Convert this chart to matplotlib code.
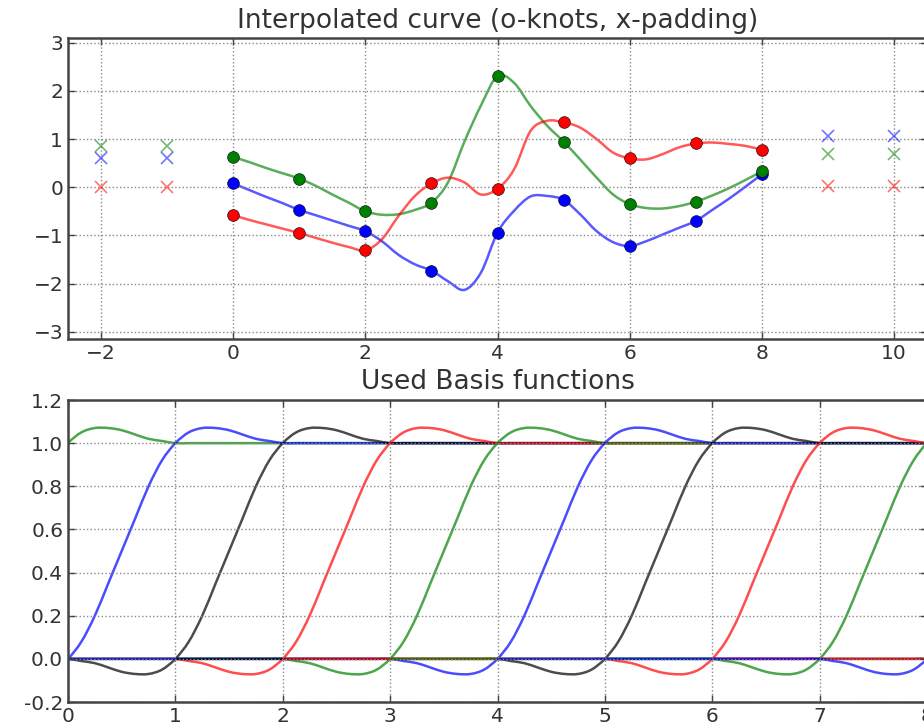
import numpy as np
import matplotlib
matplotlib.use("Agg")
import matplotlib.pyplot as plt
from matplotlib.path import Path
from matplotlib.patches import PathPatch

# curve samples, every 0.25 from 0 to 8 (knots at integers)
curve_t = np.arange(0, 8.25, 0.25)
blue_curve = [0.08, -0.06, -0.20, -0.33, -0.47, -0.58, -0.69, -0.80, -0.91, -1.12, -1.40, -1.60,
              -1.73, -1.95, -2.13, -1.77, -0.94, -0.49, -0.19, -0.18, -0.26, -0.56, -0.91, -1.14,
              -1.22, -1.12, -0.98, -0.84, -0.70, -0.47, -0.24, 0.01, 0.27]
green_curve = [0.63, 0.52, 0.40, 0.29, 0.18, 0.03, -0.15, -0.32, -0.50, -0.57, -0.56, -0.47,
               -0.32, 0.10, 0.95, 1.70, 2.31, 2.17, 1.69, 1.28, 0.95, 0.58, 0.20, -0.15,
               -0.35, -0.43, -0.44, -0.39, -0.30, -0.17, -0.02, 0.15, 0.33]
red_curve = [-0.58, -0.68, -0.77, -0.86, -0.95, -1.05, -1.15, -1.24, -1.31, -1.08, -0.60, -0.18,
             0.08, 0.20, 0.10, -0.15, -0.03, 0.37, 1.17, 1.38, 1.35, 1.24, 1.00, 0.72,
             0.60, 0.58, 0.69, 0.83, 0.91, 0.93, 0.90, 0.86, 0.78]

# padding points (x markers)
pad_x = [-2, -1, 9, 10]
blue_pad = [0.60, 0.60, 1.07, 1.07]
green_pad = [0.85, 0.85, 0.69, 0.69]
red_pad = [0.0, 0.0, 0.02, 0.02]

# one basis function over 3 units (dip, rise, overshoot), read every 1/8
basis_step = 0.125
basis_profile = [0, -0.01, -0.02, -0.04, -0.06, -0.07, -0.07, -0.05, 0,
                 0.08, 0.20, 0.35, 0.50, 0.65, 0.80, 0.92, 1.0,
                 1.05, 1.07, 1.07, 1.06, 1.04, 1.02, 1.01, 1.0]
basis_index = [10, 11, 0, 1, 2, 3, 4, 5, 6, 7, 8, 9]
basis_cycle = ['g', 'b', 'k', 'r']

W, H = 924, 728
fig = plt.figure(figsize=(W / 100, H / 100), dpi=100)


def smooth_line(ax, x, y, **kw):
    # draw a smooth line through the given points (bezier segments)
    p = np.column_stack([x, y]).astype(float)
    ext = np.vstack([p[0], p, p[-1]])
    verts = [p[0]]
    codes = [Path.MOVETO]
    for i in range(len(p) - 1):
        c1 = ext[i + 1] + (ext[i + 2] - ext[i]) / 6
        c2 = ext[i + 2] - (ext[i + 3] - ext[i + 1]) / 6
        verts += [c1, c2, p[i + 1]]
        codes += [Path.CURVE4] * 3
    ax.add_patch(PathPatch(Path(verts, codes), fill=False, **kw))


def style(ax):
    for s in ax.spines.values():
        s.set_color('#444444')
        s.set_linewidth(1.8)
    ax.tick_params(direction='in', top=True, right=True, length=5, width=1,
                   labelsize=14.5, labelcolor='#333333', color='#444444')
    ax.grid(True, linestyle=':', color='#888888', linewidth=1)


ax1 = fig.add_axes([68 / W, 1 - 339 / H, 859 / W, 301 / H])
style(ax1)
series = [(blue_curve, blue_pad, 'b'), (green_curve, green_pad, 'g'), (red_curve, red_pad, 'r')]
for vals, pad, c in series:
    smooth_line(ax1, curve_t, vals, edgecolor=c, alpha=0.65, lw=1.8)
for vals, pad, c in series:
    ax1.plot(curve_t[::4], vals[::4], 'o', color=c, ms=8.5, mec='k', mew=0.4)
    ax1.plot(pad_x, pad, 'x', color=c, alpha=0.55, ms=8, mew=1.2)
ax1.set_xlim(-2.5, 10.5)
ax1.set_ylim(-3.15, 3.1)
ax1.set_xticks(range(-2, 11, 2))
ax1.set_yticks(range(-3, 4))
ax1.set_title('Interpolated curve (o-knots, x-padding)', fontsize=19, color='#333333', pad=7)

ax2 = fig.add_axes([68 / W, 1 - 702 / H, 859 / W, 302 / H])
style(ax2)
n_before = 24
n_after = 24
for j in basis_index:
    ys = [0] * n_before + basis_profile + [1] * n_after
    xs = j - 2 + (np.arange(len(ys)) - n_before) * basis_step
    smooth_line(ax2, xs, ys, edgecolor=basis_cycle[j % 4], alpha=0.7, lw=1.8)
ax2.set_xlim(0, 8)
ax2.set_ylim(-0.2, 1.2)
ax2.set_xticks(range(0, 9))
ax2.set_yticks(np.arange(-0.2, 1.21, 0.2))
ax2.set_yticklabels(['%.1f' % v for v in np.arange(-0.2, 1.21, 0.2)])
ax2.set_title('Used Basis functions', fontsize=19, color='#333333', pad=8)

fig.savefig('out.png', dpi=100)
